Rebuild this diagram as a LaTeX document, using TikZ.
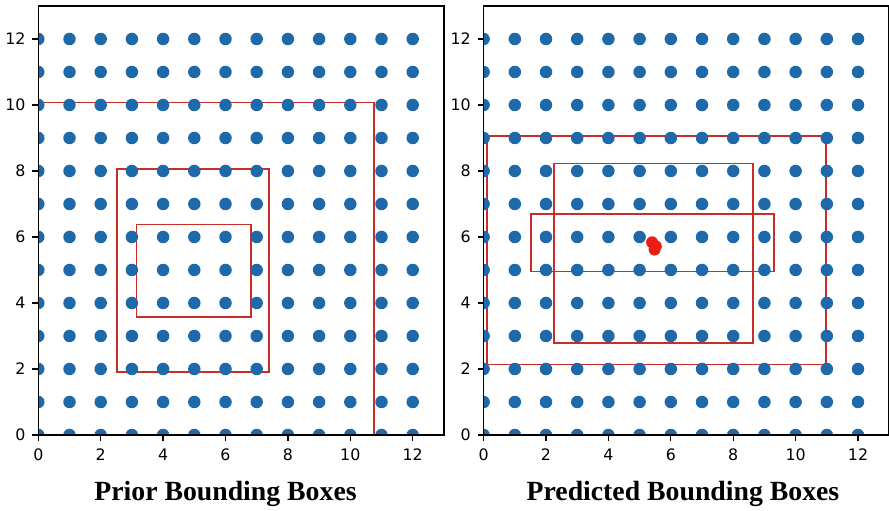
\documentclass[tikz,border=0pt]{standalone}
\usepackage{fontspec}
\newfontfamily\tickfont{DejaVu Sans}
\newfontfamily\titlefont{Liberation Serif}
\definecolor{dotblue}{RGB}{30,105,170}
\definecolor{boxred}{RGB}{200,45,40}
\definecolor{predred}{RGB}{235,30,20}
\tikzset{
  frameline/.style={line width=0.85pt, black},
  tickline/.style={line width=0.7pt, black},
  boxline/.style={line width=0.95pt, boxred},
  ylab/.style={anchor=east, inner sep=0pt, font=\tickfont\fontsize{9pt}{10pt}\selectfont},
  xlab/.style={anchor=north, inner sep=0pt, font=\tickfont\fontsize{9pt}{10pt}\selectfont},
  titlelab/.style={anchor=base, inner sep=0pt, font=\titlefont\bfseries\fontsize{15.8pt}{18pt}\selectfont},
}
\begin{document}
\begin{tikzpicture}
\useasboundingbox (0,0) rectangle (17.78,10.22);
% ---------- left panel ----------
\begin{scope}[shift={(0.766,1.52)}, x=0.624cm, y=0.66cm]
  \begin{scope}
    \clip (0,0) rectangle (13,13);
    \draw[boxline] (-0.85,-0.1) rectangle (10.77,10.08);
    \draw[boxline] (2.53,1.9) rectangle (7.40,8.06);
    \draw[boxline] (3.15,3.58) rectangle (6.81,6.38);
    \foreach \i in {0,...,12} \foreach \j in {0,...,12}
      \fill[dotblue] (\i,\j) circle (0.125cm);
  \end{scope}
  \draw[frameline] (0,0) rectangle (13,13);
  \foreach \v in {0,2,...,12} {
    \draw[tickline] (0,\v) -- ++(-0.12cm,0);
    \draw[tickline] (\v,0) -- ++(0,-0.12cm);
    \node[ylab] (ly\v) at ([xshift=-0.25cm]0,\v) {\v};
    \node[xlab] (lx\v) at ([yshift=-0.27cm]\v,0) {\v};
  }
  \node[titlelab] (ltitle) at (6.0,-1.98) {Prior Bounding Boxes};
\end{scope}
% ---------- right panel ----------
\begin{scope}[shift={(9.672,1.52)}, x=0.624cm, y=0.66cm]
  \begin{scope}
    \clip (0,0) rectangle (13,13);
    \draw[boxline] (0.11,2.14) rectangle (10.97,9.07);
    \draw[boxline] (2.26,2.78) rectangle (8.64,8.23);
    \draw[boxline] (1.51,4.95) rectangle (9.31,6.69);
    \foreach \i in {0,...,12} \foreach \j in {0,...,12}
      \fill[dotblue] (\i,\j) circle (0.125cm);
    \fill[predred] (5.48,5.62) circle (0.12cm);
    \fill[predred] (5.52,5.72) circle (0.12cm);
    \fill[predred] (5.40,5.84) circle (0.12cm);
  \end{scope}
  \draw[frameline] (0,0) rectangle (13,13);
  \foreach \v in {0,2,...,12} {
    \draw[tickline] (0,\v) -- ++(-0.12cm,0);
    \draw[tickline] (\v,0) -- ++(0,-0.12cm);
    \node[ylab] (ry\v) at ([xshift=-0.25cm]0,\v) {\v};
    \node[xlab] (rx\v) at ([yshift=-0.27cm]\v,0) {\v};
  }
  \node[titlelab] (rtitle) at (6.39,-1.98) {Predicted Bounding Boxes};
\end{scope}
\end{tikzpicture}
\end{document}
